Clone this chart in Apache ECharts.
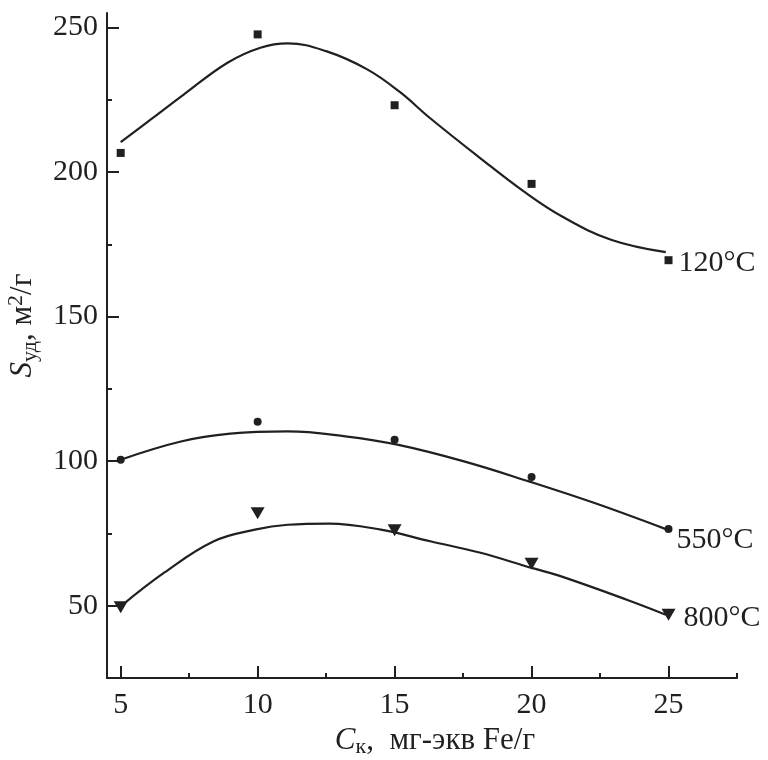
<!DOCTYPE html>
<html>
<head>
<meta charset="utf-8">
<title>Sуд vs Cк</title>
<script src="https://cdn.jsdelivr.net/npm/echarts@6/dist/echarts.min.js"></script>
<style>
  html, body { margin: 0; padding: 0; background: #fff; }
  #chart { width: 768px; height: 760px; }
</style>
</head>
<body>
<div id="chart"></div>
<script>
  // measured points (markers)
  let pointsX = [5, 10, 15, 20, 25]
  let points120 = [206.6, 247.6, 223.1, 195.9, 169.5]
  let points550 = [100.5, 113.6, 107.4, 94.5, 76.5]
  let points800 = [49.5, 82, 76.1, 64.5, 46.9]

  // fitted curves
  let curve120X = [5, 6.1, 7.3, 8.9, 10.1, 11.1, 12.5, 14, 15.2, 16.3, 18.1, 19.7, 21.1, 22.9, 24.9]
  let curve120Y = [210.3, 218.2, 226.8, 237.8, 243, 244.5, 241.8, 235.5, 227.6, 218.6, 205, 193.4, 184.7, 176.6, 172.3]
  let curve550X = [5, 7.2, 9, 11.1, 13.2, 15.1, 17.5, 19.9, 22.3, 24.9]
  let curve550Y = [100.5, 106.8, 109.5, 110.3, 108.6, 105.7, 100, 93, 85.5, 76.5]
  let curve800X = [5, 6.6, 8.4, 9.9, 11.1, 12.6, 14.5, 16.3, 18.1, 20, 21, 23.5, 24.9]
  let curve800Y = [49.8, 61.5, 72.3, 76.3, 78, 78.4, 76.3, 72.3, 68.4, 63.1, 60.4, 52, 46.9]

  let curveNames = ['120°C', '550°C', '800°C']

  // ticks
  let xMajorTicks = [5, 10, 15, 20, 25]
  let xMinorTicks = [7.5, 12.5, 17.5, 22.5, 27.5]
  let yMajorTicks = [50, 100, 150, 200, 250]
  let yMinorTicks = [75, 125, 175, 225]

  let ink = '#231f20'
  let serif = '"Liberation Serif", "Times New Roman", serif'

  let pairs = (xs, ys) => xs.map((x, i) => [x, ys[i]])

  let curve = (name, xs, ys) => ({
    name: name,
    type: 'line',
    smooth: 0.4,
    showSymbol: false,
    silent: true,
    lineStyle: { color: ink, width: 2.2 },
    data: pairs(xs, ys),
    z: 2
  })

  let markers = (name, ys, symbol, size, rotate, labelDist, labelOffset) => ({
    name: name,
    type: 'scatter',
    symbol: symbol,
    symbolSize: size,
    symbolRotate: rotate,
    silent: true,
    itemStyle: { color: ink, opacity: 1 },
    data: pairs(pointsX, ys),
    label: {
      show: true,
      position: 'right',
      distance: labelDist,
      offset: labelOffset,
      color: ink,
      fontFamily: serif,
      fontSize: 30,
      formatter: (p) => p.dataIndex === pointsX.length - 1 ? name : ''
    },
    z: 3
  })

  let chart = echarts.init(document.getElementById('chart'))

  let axisCommon = {
    type: 'value',
    splitLine: { show: false },
    axisLine: { show: true, onZero: false, lineStyle: { color: ink, width: 2 } }
  }

  let option = {
    animation: false,
    backgroundColor: '#fff',
    grid: { left: 107, right: 31, top: 13, bottom: 82, containLabel: false, outerBoundsMode: 'none' },
    xAxis: [
      Object.assign({}, axisCommon, {
        min: 4.5,
        max: 27.5,
        position: 'bottom',
        axisTick: { show: true, inside: true, length: 12, customValues: xMajorTicks, lineStyle: { color: ink, width: 2 } },
        axisLabel: { customValues: xMajorTicks, margin: 12, color: ink, fontFamily: serif, fontSize: 30 },
        name: '{i|C}{sub|к}{n|,  мг-экв Fe/г}',
        nameLocation: 'middle',
        nameGap: 38,
        nameTextStyle: {
          padding: [0, 0, 0, 26],
          rich: {
            i: { fontFamily: serif, fontStyle: 'italic', fontSize: 31, color: ink, lineHeight: 36 },
            sub: { fontFamily: serif, fontSize: 22, color: ink, lineHeight: 22, verticalAlign: 'bottom' },
            n: { fontFamily: serif, fontSize: 31, color: ink, lineHeight: 36 }
          }
        }
      }),
      Object.assign({}, axisCommon, {
        min: 4.5,
        max: 27.5,
        position: 'bottom',
        axisLine: { show: false },
        axisTick: { show: true, inside: true, length: 5, customValues: xMinorTicks, lineStyle: { color: ink, width: 2 } },
        axisLabel: { show: false }
      })
    ],
    yAxis: [
      Object.assign({}, axisCommon, {
        min: 25,
        max: 255,
        position: 'left',
        axisTick: { show: true, inside: true, length: 12, customValues: yMajorTicks, lineStyle: { color: ink, width: 2 } },
        axisLabel: { customValues: yMajorTicks, margin: 9, color: ink, fontFamily: serif, fontSize: 30 },
        name: '{i|S}{sub|уд}{n|, м}{sup|2}{n|/г}',
        nameLocation: 'middle',
        nameRotate: 90,
        nameGap: 66,
        nameTextStyle: {
          padding: [0, 0, 0, 40],
          rich: {
            i: { fontFamily: serif, fontStyle: 'italic', fontSize: 31, color: ink, lineHeight: 36 },
            sub: { fontFamily: serif, fontSize: 22, color: ink, lineHeight: 22, verticalAlign: 'bottom' },
            sup: { fontFamily: serif, fontSize: 22, color: ink, lineHeight: 22, verticalAlign: 'top' },
            n: { fontFamily: serif, fontSize: 31, color: ink, lineHeight: 36 }
          }
        }
      }),
      Object.assign({}, axisCommon, {
        min: 25,
        max: 255,
        position: 'left',
        axisLine: { show: false },
        axisTick: { show: true, inside: true, length: 5, customValues: yMinorTicks, lineStyle: { color: ink, width: 2 } },
        axisLabel: { show: false }
      })
    ],
    series: [
      curve(curveNames[0], curve120X, curve120Y),
      curve(curveNames[1], curve550X, curve550Y),
      curve(curveNames[2], curve800X, curve800Y),
      markers(curveNames[0], points120, 'rect', 8, 0, 6, [0, 3]),
      markers(curveNames[1], points550, 'circle', 8, 0, 4, [0, 11]),
      markers(curveNames[2], points800, 'triangle', [14, 12], 180, 8, [0, 3])
    ]
  }
  chart.setOption(option)
</script>
</body>
</html>
